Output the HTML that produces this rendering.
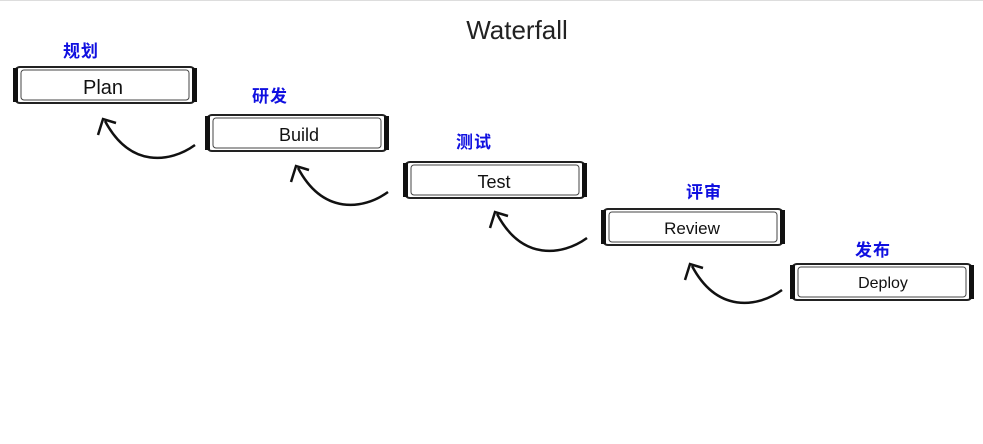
<!DOCTYPE html>
<html><head><style>
body{margin:0;background:#fff;width:983px;height:444px;overflow:hidden;position:relative}
.z{position:absolute;color:#1010e0;font:bold 17px "Liberation Sans","Noto Sans CJK SC",sans-serif;letter-spacing:1px}
</style></head><body>
<svg width="983" height="444" style="position:absolute;left:0;top:0" font-family="Liberation Sans, sans-serif">
<line x1="0" y1="0.5" x2="983" y2="0.5" stroke="#ddd"/>
<text x="517" y="39" font-size="26" text-anchor="middle" fill="#222">Waterfall</text>
<defs>
<g id="b">
<rect x="2" y="1" width="180" height="36" rx="5" fill="#fff" stroke="#222" stroke-width="2"/>
<rect x="8" y="4" width="168" height="30" rx="3" fill="none" stroke="#444" stroke-width="1"/>
<rect x="0" y="2" width="5" height="34" fill="#111"/>
<rect x="179" y="2" width="5" height="34" fill="#111"/>
</g>
<g id="a">
<path d="M95,32 C70,50 30,55 5,8" fill="none" stroke="#111" stroke-width="2.5"/>
<path d="M-2,22 L3,6 L16,10" fill="none" stroke="#111" stroke-width="2.5"/>
</g>
</defs>
<use href="#b" x="13" y="66"/><text x="103" y="94" font-size="20" text-anchor="middle" fill="#111">Plan</text>
<use href="#b" x="205" y="114"/><text x="299" y="141" font-size="18" text-anchor="middle" fill="#111">Build</text>
<use href="#b" x="403" y="161"/><text x="494" y="188" font-size="18" text-anchor="middle" fill="#111">Test</text>
<use href="#b" x="601" y="208"/><text x="692" y="234" font-size="17" text-anchor="middle" fill="#111">Review</text>
<use href="#b" x="790" y="263"/><text x="883" y="288" font-size="16" text-anchor="middle" fill="#111">Deploy</text>
<use href="#a" x="100" y="113"/>
<use href="#a" x="293" y="160"/>
<use href="#a" x="492" y="206"/>
<use href="#a" x="687" y="258"/>
</svg>
<div class="z" style="left:63px;top:37px">规划</div>
<div class="z" style="left:252px;top:82px">研发</div>
<div class="z" style="left:456px;top:128px">测试</div>
<div class="z" style="left:686px;top:178px">评审</div>
<div class="z" style="left:855px;top:236px">发布</div>
</body></html>
